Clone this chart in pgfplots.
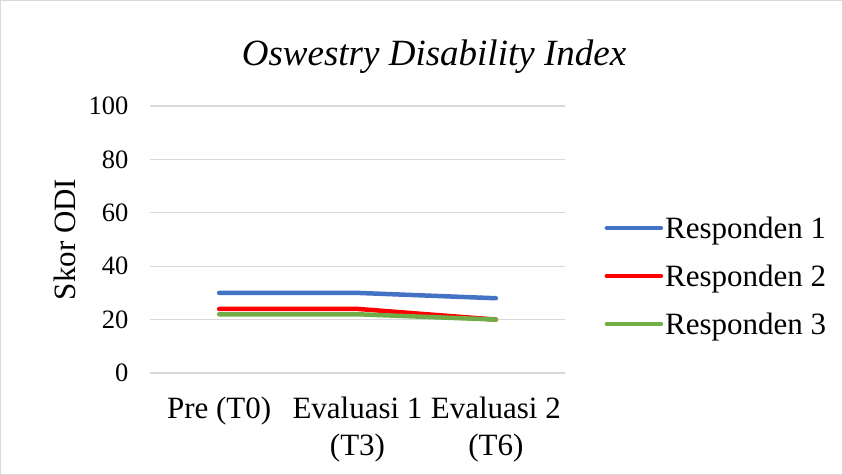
\documentclass[border=0pt]{standalone}
\usepackage{pgfplots}
\pgfplotsset{compat=1.18}
\usepackage{fontspec}
\setmainfont{Liberation Serif}
\definecolor{rblue}{HTML}{4472C4}
\definecolor{rred}{HTML}{FF0000}
\definecolor{rgreen}{HTML}{70AD47}
\definecolor{gridg}{HTML}{D9D9D9}
\begin{document}
\begin{tikzpicture}
\useasboundingbox (0,0) rectangle (843bp,475bp);
\draw[color=gridg, line width=1bp] (0.5bp,0.5bp) rectangle (842.5bp,474.5bp);
\node[font=\fontsize{37bp}{42bp}\selectfont\itshape] at (434bp,418bp) {Oswestry Disability Index};
\begin{axis}[
  at={(150bp,102bp)}, anchor=south west,
  scale only axis, width=415bp, height=267bp,
  xmin=-0.5, xmax=2.5, ymin=0, ymax=100,
  ytick={0,20,40,60,80,100},
  xtick={0,1,2},
  xticklabels={{Pre (T0)},{Evaluasi 1\\(T3)},{Evaluasi 2\\(T6)}},
  xticklabel style={align=center, font=\fontsize{31bp}{37bp}\selectfont, yshift=-20bp},
  yticklabel style={font=\fontsize{26.5bp}{30bp}\selectfont, xshift=-18bp},
  /pgf/number format/assume math mode=true,
  axis line style={draw=none},
  major tick length=0pt,
  ymajorgrids, grid style={gridg, line width=1.2bp},
  ylabel={Skor ODI},
  every axis y label/.style={at={(axis description cs:-0.206,0.5)}, rotate=90, anchor=center, font=\fontsize{31bp}{36bp}\selectfont},
  legend style={at={(rel axis cs:1.095,0.363)}, anchor=west, draw=none, fill=none,
    font=\fontsize{31bp}{36bp}\selectfont, row sep=21bp, inner sep=0pt},
  legend cell align=left,
  legend image code/.code={\draw[#1, line cap=round] (0bp,0bp) -- (54bp,0bp);},
  clip=false,
]
\addplot[rblue, line width=4.5bp, line cap=round, line join=round] coordinates {(0,30) (1,30) (2,28)};
\addlegendentry{Responden 1}
\addplot[rred, line width=4.5bp, line cap=round, line join=round] coordinates {(0,24) (1,24) (2,20)};
\addlegendentry{Responden 2}
\addplot[rgreen, line width=4.5bp, line cap=round, line join=round] coordinates {(0,22) (1,22) (2,20)};
\addlegendentry{Responden 3}
\end{axis}
\end{tikzpicture}
\end{document}
